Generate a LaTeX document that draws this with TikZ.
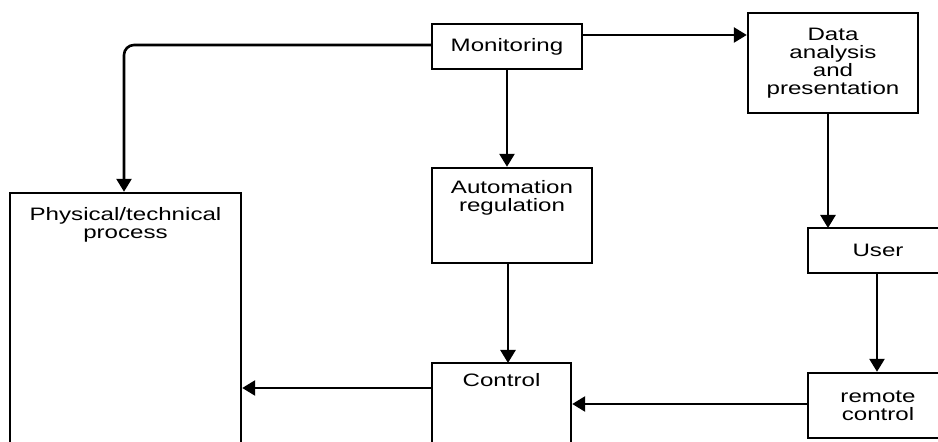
\documentclass[tikz,border=0pt]{standalone}
\usepackage{fontspec}
\setmainfont{Liberation Sans}[FakeStretch=1.34]
\usetikzlibrary{arrows.meta,positioning}
\begin{document}
\begin{tikzpicture}[x=0.5pt,y=-0.5pt,
  font=\fontsize{9}{9}\selectfont,
  box/.style={draw,line width=1.2pt,inner sep=0pt,align=center},
  txt/.style={inner sep=0pt,align=center},
  flow/.style={line width=1.3pt,-{Triangle[length=6.5pt,width=7.5pt]}}
  ]
    \useasboundingbox (0,0) rectangle (938,442);
    \clip (0,0) rectangle (938,442);

    % boxes
    \node[box,minimum width=75pt,minimum height=22.5pt] (mon) at (507,46.5) {Monitoring};
    \node[box,minimum width=85pt,minimum height=50pt] (data) at (833,63) {Data\\analysis\\and\\presentation};
    \node[box,minimum width=80pt,minimum height=47.5pt] (auto) at (512,215.5) {};
    \node[box,minimum width=115.5pt,minimum height=160pt] (phys) at (125.5,353) {};
    \node[box,minimum width=69.5pt,minimum height=80pt] (ctrl) at (501.5,443) {};
    \node[box,minimum width=70pt,minimum height=22.5pt] (user) at (878,250.5) {User};
    \node[box,minimum width=70pt,minimum height=32.5pt] (rem) at (878,405.5) {remote\\control};

    % texts at the top of the tall boxes
    \node[txt,below=7.5pt of phys.north] (physTxt) {Physical/technical\\process};
    \node[txt,below=6.5pt of auto.north] (autoTxt) {Automation\\regulation};
    \node[txt,below=5.5pt of ctrl.north] (ctrlTxt) {Control};

    % connectors
    \coordinate (monL) at (432,45);
    \coordinate (monR) at (582,35);
    \draw[flow,rounded corners=5pt] (monL) -| (124,193) -- (phys.north -| 124,0);
    \draw[flow] (monR) -- (monR -| data.west);
    \draw[flow] (mon.south) -- (mon.south |- auto.north);
    \draw[flow] (508,263) -- (508,363);
    \draw[flow] (ctrl.west |- 0,388) -- (phys.east |- 0,388);
    \draw[flow] (828,113) -- (828,228);
    \draw[flow] (user.south -| 877,0) -- (rem.north -| 877,0);
    \draw[flow] (rem.west |- 0,404) -- (ctrl.east |- 0,404);
\end{tikzpicture}
\end{document}
